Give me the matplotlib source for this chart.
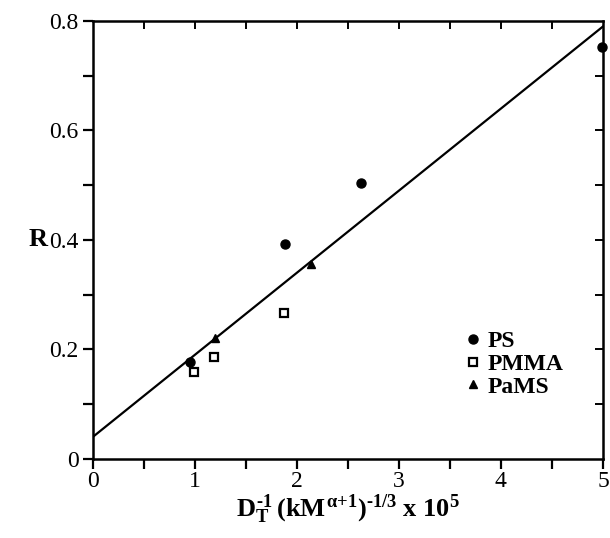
import matplotlib
matplotlib.use("Agg")
import matplotlib.pyplot as plt
from matplotlib.ticker import MultipleLocator, FuncFormatter

plt.rcParams['font.family'] = 'Liberation Serif'
plt.rcParams['mathtext.fontset'] = 'custom'
plt.rcParams['mathtext.rm'] = 'Liberation Serif:bold'
plt.rcParams['mathtext.it'] = 'Liberation Serif:bold'
plt.rcParams['mathtext.bf'] = 'Liberation Serif:bold'

# values
ps_x = [0.95, 1.88, 2.63, 4.99]
ps_y = [0.177, 0.393, 0.504, 0.752]
pmma_x = [0.99, 1.19, 1.87]
pmma_y = [0.159, 0.186, 0.267]
pams_x = [1.20, 2.14]
pams_y = [0.221, 0.356]
fit_x = [0, 5]
fit_y = [0.04, 0.79]

fig = plt.figure(figsize=(6.1, 5.38), dpi=100)
ax = fig.add_axes([0.152, 0.147, 0.8365, 0.814])

ax.plot(fit_x, fit_y, color='k', lw=1.6, zorder=2)
ax.plot(ps_x, ps_y, 'o', color='k', ms=6.5, label='PS', clip_on=False, zorder=3)
ax.plot(pmma_x, pmma_y, 's', mfc='white', mec='k', mew=1.6, ms=5.5, label='PMMA', zorder=3)
ax.plot(pams_x, pams_y, '^', color='k', ms=6, label='PaMS', zorder=3)

ax.set_xlim(0, 5)
ax.set_ylim(0, 0.8)
ax.xaxis.set_major_locator(MultipleLocator(1))
ax.xaxis.set_minor_locator(MultipleLocator(0.5))
ax.yaxis.set_major_locator(MultipleLocator(0.2))
ax.yaxis.set_minor_locator(MultipleLocator(0.1))
ax.xaxis.set_major_formatter(FuncFormatter(lambda v, p: '%d' % round(v)))
ax.yaxis.set_major_formatter(FuncFormatter(lambda v, p: '0' if abs(v) < 1e-9 else '%.1f' % v))

for s in ax.spines.values():
    s.set_linewidth(1.8)
ax.tick_params(which='both', direction='out', length=7, width=1.6, labelsize=17,
               top=False, right=False)
ax.tick_params(axis='y', pad=3)
ax.tick_params(axis='x', pad=2)

# inward ticks on top and right
axt = ax.twiny()
axt.set_xlim(0, 5)
axt.set_xticks([0.5, 1, 1.5, 2, 2.5, 3, 3.5, 4, 4.5])
axt.tick_params(direction='in', length=6, width=1.4, labeltop=False)
axr = ax.twinx()
axr.set_ylim(0, 0.8)
axr.set_yticks([0.1, 0.2, 0.3, 0.4, 0.5, 0.6, 0.7])
axr.tick_params(direction='in', length=6, width=1.4, labelright=False)
for a in (axt, axr):
    for s in a.spines.values():
        s.set_visible(False)

ax.set_xlabel(r'$D_T^{\text{-1}}\,(kM^{\alpha\text{+1}})^{\text{-1/3}}$ x 10$^5$', fontsize=19,
              fontweight='bold', labelpad=0)
ax.set_ylabel('R', fontsize=19, fontweight='bold', rotation=0, labelpad=8, va='center')

axr.legend(*ax.get_legend_handles_labels(), loc='upper left',
           bbox_to_anchor=(0.71, 0.32), frameon=False,
           handlelength=0.5, handletextpad=0.4, labelspacing=0.05,
           prop={'weight': 'bold', 'size': 17}, borderpad=0)

fig.savefig('out.png', dpi=100)
